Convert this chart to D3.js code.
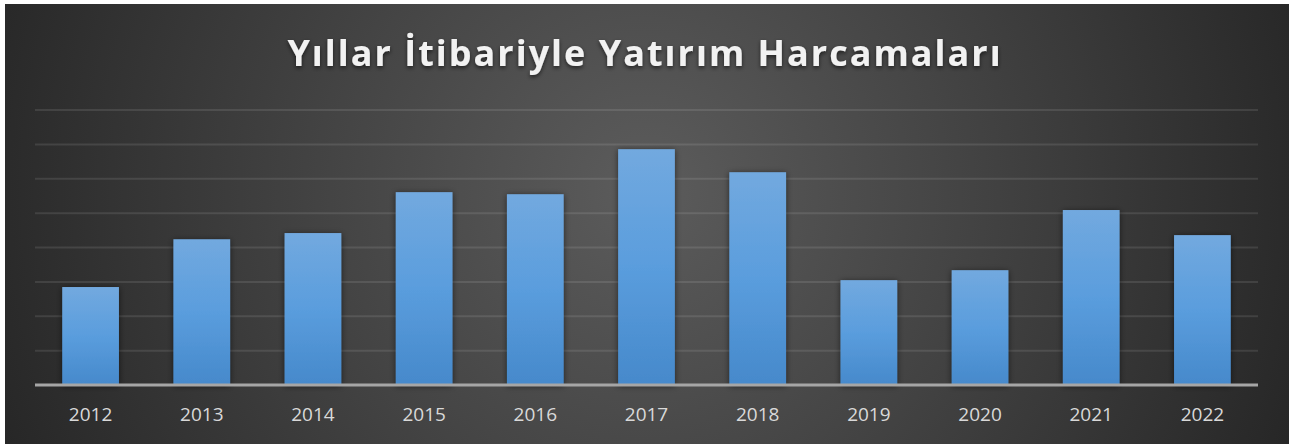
<!DOCTYPE html>
<html>
<head>
<meta charset="utf-8">
<script src="https://cdn.jsdelivr.net/npm/d3@7"></script>
<style>
  html, body { margin: 0; padding: 0; background: #ffffff; }
</style>
</head>
<body>
<div id="grafico"></div>
<script>
const ANCHO = 1289;
const ALTO = 444;

// datos (sin escala visible, unidades de la cuadricula)
const anios = ["2012", "2013", "2014", "2015", "2016", "2017", "2018", "2019", "2020", "2021", "2022"];
const valores = [2.85, 4.24, 4.42, 5.61, 5.55, 6.86, 6.19, 3.05, 3.34, 5.09, 4.36];
const marcas = [1, 2, 3, 4, 5, 6, 7, 8];
const titulo = "Yıllar İtibariyle Yatırım Harcamaları";

const margen = { izq: 35, der: 1258, arriba: 110, abajo: 385 };

const $svg = d3.select("#grafico")
    .append("svg")
    .attr("width", ANCHO)
    .attr("height", ALTO);

const defs = $svg.append("defs");

const fondo = defs.append("radialGradient")
    .attr("id", "fondo")
    .attr("gradientUnits", "userSpaceOnUse")
    .attr("cx", 645).attr("cy", 190)
    .attr("r", 700);
fondo.append("stop").attr("offset", "0%").attr("stop-color", "#5c5c5c");
fondo.append("stop").attr("offset", "45%").attr("stop-color", "#444444");
fondo.append("stop").attr("offset", "100%").attr("stop-color", "#262626");

const relleno = defs.append("linearGradient")
    .attr("id", "barra")
    .attr("x1", 0).attr("y1", 0).attr("x2", 0).attr("y2", 1);
relleno.append("stop").attr("offset", "0%").attr("stop-color", "#72a9df");
relleno.append("stop").attr("offset", "50%").attr("stop-color", "#5a9ddd");
relleno.append("stop").attr("offset", "100%").attr("stop-color", "#4689cb");

const sombra = defs.append("filter")
    .attr("id", "sombra")
    .attr("x", "-20%").attr("y", "-20%").attr("width", "140%").attr("height", "140%");
sombra.append("feDropShadow")
    .attr("dx", 0).attr("dy", 1)
    .attr("stdDeviation", 3)
    .attr("flood-color", "#000000")
    .attr("flood-opacity", 0.55);

const sombraTitulo = defs.append("filter")
    .attr("id", "sombraTitulo")
    .attr("x", "-5%").attr("y", "-20%").attr("width", "110%").attr("height", "150%");
sombraTitulo.append("feDropShadow")
    .attr("dx", 0).attr("dy", 2)
    .attr("stdDeviation", 2)
    .attr("flood-color", "#000000")
    .attr("flood-opacity", 0.6);

$svg.append("rect")
    .attr("x", 5).attr("y", 4)
    .attr("width", ANCHO - 5).attr("height", ALTO - 4)
    .attr("fill", "url(#fondo)");

const x = d3.scaleBand()
    .domain(anios)
    .range([margen.izq, margen.der])
    .paddingInner(0.49)
    .paddingOuter(0.245);

const y = d3.scaleLinear()
    .domain([0, 8])
    .range([margen.abajo, margen.arriba]);

// cuadricula
$svg.append("g")
    .selectAll("line")
    .data(marcas)
    .join("line")
    .attr("x1", margen.izq)
    .attr("x2", margen.der)
    .attr("y1", d => y(d))
    .attr("y2", d => y(d))
    .attr("stroke", "#ffffff")
    .attr("stroke-opacity", 0.1)
    .attr("stroke-width", 2);

// barras
$svg.append("g")
    .selectAll("rect")
    .data(valores)
    .join("rect")
    .attr("x", (d, i) => x(anios[i]))
    .attr("y", d => y(d))
    .attr("width", x.bandwidth())
    .attr("height", d => y(0) - y(d))
    .attr("fill", "url(#barra)")
    .attr("filter", "url(#sombra)");

// linea base
$svg.append("line")
    .attr("x1", margen.izq)
    .attr("x2", margen.der)
    .attr("y1", y(0))
    .attr("y2", y(0))
    .attr("stroke", "#a6a6a6")
    .attr("stroke-width", 3);

// eje x
const ejeX = $svg.append("g")
    .attr("transform", `translate(0,${y(0)})`)
    .call(d3.axisBottom(x).tickSize(0).tickPadding(23));
ejeX.select(".domain").remove();
ejeX.selectAll("text")
    .attr("fill", "#d9d9d9")
    .attr("font-family", "'Open Sans', sans-serif")
    .attr("font-size", 19);

$svg.append("text")
    .attr("x", 645)
    .attr("y", 66)
    .attr("text-anchor", "middle")
    .attr("fill", "#f2f2f2")
    .attr("font-family", "'Open Sans', sans-serif")
    .attr("font-weight", "bold")
    .attr("font-size", 36)
    .attr("letter-spacing", 2)
    .attr("filter", "url(#sombraTitulo)")
    .text(titulo);
</script>
</body>
</html>
